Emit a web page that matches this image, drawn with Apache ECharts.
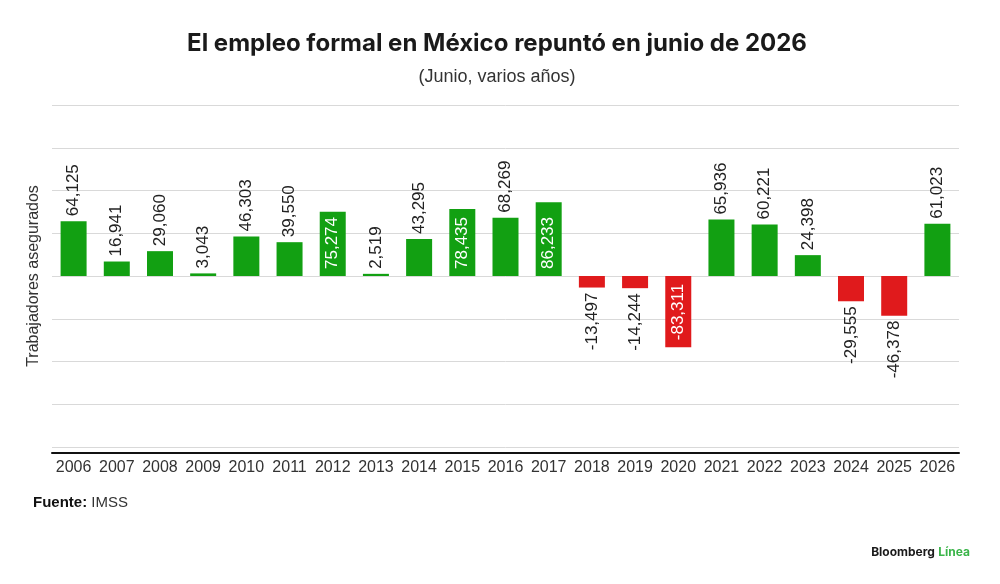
<!DOCTYPE html>
<html>
<head>
<meta charset="utf-8">
<script src="https://cdn.jsdelivr.net/npm/echarts@6/dist/echarts.min.js"></script>
<style>
    html, body { margin: 0; padding: 0; background: #fff; }
    #main_chart { width: 1000px; height: 584px; }
</style>
</head>
<body>
<div id="main_chart"></div>
<script>
// 年份与6月新增正式就业人数
var years = ['2006', '2007', '2008', '2009', '2010', '2011', '2012', '2013', '2014', '2015', '2016',
    '2017', '2018', '2019', '2020', '2021', '2022', '2023', '2024', '2025', '2026'];
var jobs = [64125, 16941, 29060, 3043, 46303, 39550, 75274, 2519, 43295, 78435, 68269,
    86233, -13497, -14244, -83311, 65936, 60221, 24398, -29555, -46378, 61023];
var insideYears = ['2012', '2015', '2017', '2020'];   // 标签放在柱内的年份

var GREEN = '#12a012';
var RED = '#e01a1c';

function fmt(v) {
    return v.toLocaleString('en-US');
}

var barData = jobs.map(function (v, i) {
    var inside = insideYears.indexOf(years[i]) >= 0;
    return {
        value: v,
        itemStyle: { color: v >= 0 ? GREEN : RED },
        label: inside ? {
            position: 'insideBottom',
            align: 'left',
            color: '#ffffff',
            distance: 7
        } : {
            position: 'outside',
            align: v >= 0 ? 'left' : 'right',
            color: '#222222',
            distance: 5
        }
    };
});

var option = {
    backgroundColor: '#ffffff',
    animation: false,
    title: {
        text: 'El empleo formal en México repuntó en junio de 2026',
        subtext: '(Junio, varios años)',
        left: 492,
        textAlign: 'center',
        top: 27,
        itemGap: 12,
        textStyle: {
            fontFamily: 'Inter',
            fontWeight: 'bold',
            fontSize: 24,
            color: '#1a1a1a'
        },
        subtextStyle: {
            fontFamily: 'Liberation Sans',
            fontSize: 18,
            color: '#333333'
        }
    },
    grid: {
        top: 105,
        left: 52,
        right: 41,
        bottom: 137
    },
    xAxis: {
        type: 'category',
        data: years,
        offset: 6,
        axisLine: {
            onZero: false,
            lineStyle: { color: '#111111', width: 2 }
        },
        axisTick: { show: false },
        axisLabel: {
            fontFamily: 'Liberation Sans',
            fontSize: 16,
            color: '#333333',
            margin: 7,
            interval: 0
        }
    },
    yAxis: {
        type: 'value',
        min: -200000,
        max: 200000,
        interval: 50000,
        name: 'Trabajadores asegurados',
        nameLocation: 'middle',
        nameRotate: 90,
        nameGap: 10,
        nameTextStyle: {
            fontFamily: 'Liberation Sans',
            fontSize: 16,
            color: '#333333'
        },
        axisLabel: { show: false },
        axisLine: { show: false },
        axisTick: { show: false },
        splitLine: {
            lineStyle: { color: '#d9d9d9', width: 1 }
        }
    },
    series: [{
        type: 'bar',
        data: barData,
        barWidth: 26,
        label: {
            show: true,
            rotate: 90,
            verticalAlign: 'middle',
            fontFamily: 'Liberation Sans',
            fontSize: 17,
            formatter: function (p) {
                return fmt(p.value);
            }
        }
    }],
    graphic: [{
        type: 'text',
        left: 33,
        top: 495,
        style: {
            text: '{b|Fuente:} IMSS',
            font: '15px "Liberation Sans"',
            fill: '#333333',
            rich: {
                b: { fontWeight: 'bold', fontSize: 15, fontFamily: 'Liberation Sans', fill: '#111111' }
            }
        }
    }, {
        type: 'text',
        right: 30,
        top: 546,
        style: {
            text: '{a|Bloomberg} {g|Línea}',
            rich: {
                a: { fontWeight: 'bold', fontSize: 12, fontFamily: 'Inter', fill: '#1a1a1a' },
                g: { fontWeight: 'bold', fontSize: 12, fontFamily: 'Inter', fill: '#3bb54a' }
            }
        }
    }]
};

echarts.init(document.getElementById('main_chart')).setOption(option);
</script>
</body>
</html>
